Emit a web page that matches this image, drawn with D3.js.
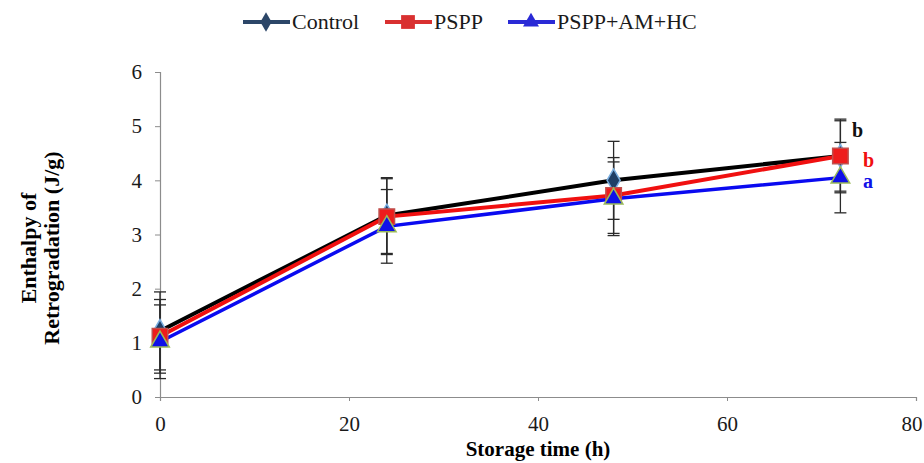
<!DOCTYPE html>
<html>
<head>
<meta charset="utf-8">
<script src="https://cdn.jsdelivr.net/npm/d3@7"></script>
<style>
  body { margin: 0; background: #fff; }
  svg, svg text { font-family: "Times New Roman", "Liberation Serif", Times, serif; }
</style>
</head>
<body>
<div class="chart"></div>
<script>
// data
const hours = [0, 24, 48, 72]
const control = [1.22, 3.35, 4.0, 4.45]
const controlErr = [0.72, 0.7, 0.72, 0.68]
const pspp = [1.12, 3.33, 3.72, 4.45]
const psppErr = [0.68, 0.7, 0.7, 0.65]
const blend = [1.02, 3.15, 3.66, 4.05]
const blendErr = [0.68, 0.68, 0.68, 0.65]
const letters = ['b', 'b', 'a']
const xTicks = [0, 20, 40, 60, 80]
const yTicks = [0, 1, 2, 3, 4, 5, 6]

const series = [
    { name: 'Control', values: control, err: controlErr, line: '#000000', legend: '#2c4668', marker: 'diamond', fill: '#1f3f66', stroke: '#7aaee0', width: 4 },
    { name: 'PSPP', values: pspp, err: psppErr, line: '#f01010', legend: '#d93030', marker: 'square', fill: '#ee1c1c', stroke: '#c0504d', width: 4 },
    { name: 'PSPP+AM+HC', values: blend, err: blendErr, line: '#0a0af0', legend: '#2a2ad6', marker: 'triangle', fill: '#1010e8', stroke: '#9bbb59', width: 3.5 }
]

const width = 924, height = 463
const margin = { top: 72, right: 8, bottom: 66, left: 160 }
const serif = '"Times New Roman", "Liberation Serif", Times, serif'

const svg = d3.select('.chart').append('svg')
    .attr('width', width)
    .attr('height', height)
    .attr('font-family', serif)

const x = d3.scaleLinear().domain([0, 80]).range([margin.left, width - margin.right])
const y = d3.scaleLinear().domain([0, 6]).range([height - margin.bottom, margin.top])

// axes
const yAxis = svg.append('g')
    .attr('transform', `translate(${margin.left},0)`)
    .call(d3.axisLeft(y).tickValues(yTicks).tickSize(5).tickPadding(13).tickFormat(d3.format('d')))
const xAxis = svg.append('g')
    .attr('transform', `translate(0,${y(0)})`)
    .call(d3.axisBottom(x).tickValues(xTicks).tickSize(4).tickPadding(15).tickFormat(d3.format('d')))

;[xAxis, yAxis].forEach(a => {
    a.attr('font-family', serif)
    a.select('.domain').attr('stroke', '#8c8c8c').attr('stroke-width', 1.2)
    a.selectAll('.tick line').attr('stroke', '#8c8c8c')
    a.selectAll('.tick text')
        .attr('fill', '#1a1a1a')
        .style('font-family', serif)
        .style('font-size', '21px')
})
// last x label sits against the right edge
xAxis.selectAll('.tick text').filter(d => d === 80)
    .attr('text-anchor', 'end')
    .attr('dx', 6)

// axis titles
svg.append('text')
    .attr('x', x(40))
    .attr('y', 456)
    .attr('text-anchor', 'middle')
    .style('font-family', serif)
    .style('font-size', '21px')
    .style('font-weight', 'bold')
    .text('Storage time (h)')

const yTitle = svg.append('text')
    .attr('transform', `translate(36,${y(2.75)}) rotate(-90)`)
    .attr('text-anchor', 'middle')
    .style('font-family', serif)
    .style('font-size', '22px')
    .style('font-weight', 'bold')
yTitle.append('tspan').attr('x', 0).attr('dy', 0).text('Enthalpy of')
yTitle.append('tspan').attr('x', 0).attr('dy', 23).text('Retrogradation (J/g)')

// error bars
const cap = 6
series.forEach(s => {
    const g = svg.append('g').attr('stroke', '#2a2a2a').attr('stroke-width', 1.3)
    s.values.forEach((v, i) => {
        const cx = x(hours[i])
        const hi = y(v + s.err[i]), lo = y(v - s.err[i])
        g.append('line').attr('x1', cx).attr('x2', cx).attr('y1', hi).attr('y2', lo)
        g.append('line').attr('x1', cx - cap).attr('x2', cx + cap).attr('y1', hi).attr('y2', hi)
        g.append('line').attr('x1', cx - cap).attr('x2', cx + cap).attr('y1', lo).attr('y2', lo)
    })
})

// lines
const line = d3.line().x((d, i) => x(hours[i])).y(d => y(d))
series.forEach(s => {
    svg.append('path')
        .datum(s.values)
        .attr('fill', 'none')
        .attr('stroke', s.line)
        .attr('stroke-width', s.width)
        .attr('d', line)
})

// markers
function markerPath(type, size) {
    if (type === 'diamond') return d3.symbol(d3.symbolDiamond, size)()
    if (type === 'square') return d3.symbol(d3.symbolSquare, size)()
    return d3.symbol(d3.symbolTriangle, size)()
}
const markerSize = { diamond: 150, square: 240, triangle: 150 }

series.forEach(s => {
    svg.append('g').selectAll('path')
        .data(s.values)
        .enter().append('path')
        .attr('transform', (d, i) => `translate(${x(hours[i])},${y(d)})`)
        .attr('d', markerPath(s.marker, markerSize[s.marker]))
        .attr('fill', s.fill)
        .attr('stroke', s.stroke)
        .attr('stroke-width', 1.5)
})

// significance letters
const letterColours = ['#111', '#f01010', '#1010e8']
const letterPos = [
    { x: 852, y: 137 },
    { x: 863, y: 167 },
    { x: 863, y: 188 }
]
letters.forEach((l, i) => {
    svg.append('text')
        .attr('x', letterPos[i].x)
        .attr('y', letterPos[i].y)
        .attr('fill', letterColours[i])
        .style('font-family', serif)
        .style('font-size', '20px')
        .style('font-weight', 'bold')
        .text(l)
})

// legend
const legendX = [243, 385, 508]
const legend = svg.append('g').attr('transform', 'translate(0,22)')
series.forEach((s, i) => {
    const lx = legendX[i]
    legend.append('line')
        .attr('x1', lx).attr('x2', lx + 47)
        .attr('stroke', s.legend)
        .attr('stroke-width', 4)
    legend.append('path')
        .attr('transform', `translate(${lx + 23},0)`)
        .attr('d', markerPath(s.marker, s.marker === 'square' ? 190 : 110))
        .attr('fill', s.legend)
    legend.append('text')
        .attr('x', lx + 49)
        .attr('y', 7)
        .attr('fill', '#1a1a1a')
        .style('font-family', serif)
        .style('font-size', '22px')
        .text(s.name)
})
</script>
</body>
</html>
